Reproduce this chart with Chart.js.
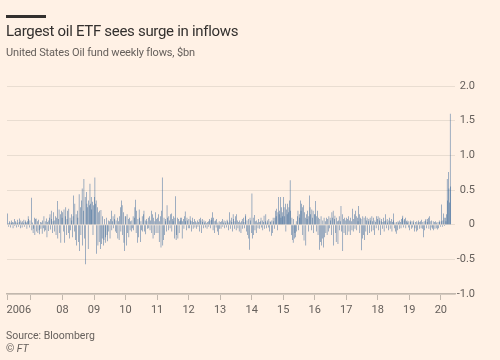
<!DOCTYPE html>
<html>
<head>
<meta charset="utf-8">
<script src="https://cdn.jsdelivr.net/npm/chart.js@4.4.1/dist/chart.umd.min.js"></script>
<style>
  html,body{margin:0;padding:0;background:#fff1e5;}
  #wrap{position:relative;width:500px;height:360px;overflow:hidden;background:#fff1e5;font-family:Roboto,"Noto Sans",sans-serif;}
  #bar{position:absolute;left:6px;top:15px;width:40px;height:3px;background:#33302e;}
  #title{position:absolute;left:6px;top:22px;font-size:15px;letter-spacing:-0.3px;line-height:18px;color:#33302e;white-space:nowrap;}
  #sub{position:absolute;left:6px;top:46px;font-size:11px;letter-spacing:-0.15px;line-height:14px;color:#66605c;white-space:nowrap;}
  #src{position:absolute;left:6px;top:329px;font-size:10.5px;line-height:13px;color:#66605c;white-space:nowrap;}
  #cp{position:absolute;left:6px;top:342px;font-size:10.5px;line-height:13px;color:#66605c;white-space:nowrap;}
  canvas{position:absolute;left:0;top:0;}
</style>
</head>
<body>
<div id="wrap">
  <canvas id="c" width="500" height="360"></canvas>
  <div id="bar"></div>
  <div id="title">Largest oil ETF sees surge in inflows</div>
  <div id="sub">United States Oil fund weekly flows, $bn</div>
  <div id="src">Source: Bloomberg</div>
  <div id="cp">© <i>FT</i></div>
</div>
<script>
// Weekly flows, $bn, one array per calendar year
const flows2006 = [0.16,0.02,-0.03,0.05,0.03,-0.04,0.06,0.02,0.04,-0.05,0.03,0.08,-0.02,0.05,0.03,-0.04,0.07,0.02,-0.03,0.04,0.09,-0.05,0.06,0.03,-0.04,0.05,0.02,0.07,-0.03,0.04,0.06,0.03,-0.06,0.05,0.12,0.08,-0.04,0.06];
const flows2007 = [0.39,-0.08,0.03,-0.12,-0.06,0.1,-0.15,0.08,0.09,-0.1,0.05,-0.12,0.07,-0.08,-0.14,0.04,-0.06,0.03,-0.13,0.06,-0.05,0.12,-0.1,0.05,-0.08,0.09,-0.18,0.04,0.06,-0.09,0.1,0.15,-0.07,0.2,0.08,-0.12,0.05,0.18,-0.1,0.06,0.12,-0.15,0.1,0.34,-0.2,0.08,0.22,-0.12,0.15,-0.26,0.2,0.1];
const flows2008 = [0.18,-0.1,0.22,-0.26,0.12,0.25,-0.15,0.08,0.2,-0.12,0.23,-0.2,0.1,-0.08,0.15,0.06,-0.18,0.12,0.42,-0.1,0.3,-0.22,0.15,-0.3,0.2,0.1,-0.25,0.44,-0.38,0.25,-0.15,0.35,0.52,-0.3,0.2,0.66,-0.2,0.4,-0.57,0.47,0.3,0.25,-0.35,0.35,0.28,0.59,0.3,0.4,0.22,0.33,-0.15,0.28];
const flows2009 = [0.4,0.68,0.3,0.35,-0.42,0.25,-0.3,0.18,-0.25,0.2,-0.35,0.21,-0.28,-0.2,0.12,-0.3,-0.22,0.08,-0.26,-0.18,0.1,-0.15,-0.24,0.06,-0.1,0.05,-0.2,0.08,0.2,-0.08,0.05,0.12,-0.05,0.08,0.15,-0.1,0.06,-0.12,0.1,-0.2,0.05,-0.22,0.12,0.25,-0.1,0.35,0.28,-0.15,0.18,-0.26,-0.38,0.12];
const flows2010 = [0.12,-0.3,0.15,-0.12,0.08,-0.18,0.1,-0.08,0.05,-0.1,0.06,-0.05,0.12,-0.08,0.1,0.25,0.36,-0.12,0.2,-0.26,0.08,-0.18,0.22,0.1,-0.25,0.05,-0.08,0.12,-0.1,0.15,0.2,-0.1,0.06,-0.14,0.08,0.05,-0.06,0.1,-0.05,0.12,-0.08,0.06,0.2,-0.12,0.15,-0.2,0.1,-0.15,0.05,0.18,-0.12,0.08];
const flows2011 = [0.1,-0.12,0.15,-0.25,0.05,0.12,-0.33,0.2,0.68,-0.3,-0.22,0.1,-0.15,0.08,0.05,-0.1,0.28,0.1,-0.08,0.12,0.06,-0.05,0.15,0.16,-0.1,0.08,0.05,0.12,-0.2,0.1,0.41,-0.22,-0.15,0.1,-0.2,0.08,-0.12,0.05,0.1,0.06,0.1,-0.2,0.05,0.08,-0.06,0.12,0.19,0.05,-0.08,0.1,0.06,-0.05];
const flows2012 = [0.08,-0.05,0.12,0.06,-0.1,0.05,0.1,-0.06,0.04,0.08,-0.04,0.05,0.03,-0.06,0.06,-0.03,0.04,0.08,-0.1,0.1,0.06,-0.12,0.08,0.04,-0.05,0.06,0.03,-0.04,0.05,0.02,-0.06,0.04,0.05,-0.03,0.08,0.06,-0.05,0.1,0.07,0.18,-0.08,0.1,-0.12,0.05,0.06,-0.04,0.08,-0.1,0.03,-0.15,0.05,-0.06];
const flows2013 = [0.04,-0.06,0.05,0.08,-0.03,0.03,0.06,-0.05,0.02,0.05,-0.04,0.07,0.05,-0.08,0.03,0.18,0.06,-0.06,0.1,0.04,-0.1,0.15,0.08,-0.06,0.05,0.12,-0.08,0.15,0.06,-0.05,0.04,-0.1,0.06,0.03,-0.12,0.05,0.08,-0.06,0.1,0.04,-0.05,0.12,0.15,-0.1,0.06,-0.15,0.08,-0.2,-0.36,0.1,0.06,-0.12];
const flows2014 = [0.45,-0.2,0.1,-0.15,0.14,-0.08,0.05,-0.12,0.06,0.03,-0.05,0.08,0.04,-0.06,0.05,0.1,-0.04,0.06,-0.08,0.04,0.13,-0.06,0.05,0.15,-0.05,0.03,0.06,-0.04,0.08,-0.1,0.05,0.04,-0.16,0.06,-0.12,0.1,0.05,-0.06,0.1,0.2,0.12,0.23,-0.08,0.18,0.4,0.15,0.2,0.4,0.1,0.25,0.18,0.12];
const flows2015 = [0.4,0.25,0.12,0.3,-0.1,0.22,0.15,0.3,0.18,0.25,0.35,0.64,0.2,-0.15,0.1,-0.22,-0.26,0.08,-0.2,-0.12,-0.18,0.05,-0.1,0.12,0.2,-0.08,0.15,0.1,0.35,0.2,0.3,0.25,-0.15,0.28,-0.23,0.18,0.1,-0.3,0.15,0.08,0.2,-0.1,0.12,0.42,0.25,0.15,-0.08,0.22,0.1,0.2,-0.12,0.15];
const flows2016 = [0.15,0.34,-0.1,0.12,0.2,-0.15,0.1,-0.36,0.08,-0.25,0.12,-0.3,-0.2,0.06,-0.33,0.1,-0.18,0.05,-0.12,0.1,-0.15,0.08,-0.1,0.12,-0.05,0.1,0.06,-0.15,0.18,0.1,0.2,-0.3,0.08,0.13,-0.12,-0.25,0.1,0.05,-0.28,0.06,0.12,-0.08,0.05,0.27,-0.1,0.15,-0.38,0.08,-0.12,0.1,-0.15,0.06];
const flows2017 = [0.1,-0.15,0.08,0.12,-0.1,0.06,-0.15,0.1,0.05,-0.08,0.23,-0.1,0.08,0.15,-0.06,0.2,0.12,-0.08,0.1,0.05,0.27,0.15,-0.12,0.1,0.08,-0.37,-0.2,0.12,-0.15,0.1,-0.22,0.12,-0.1,0.06,0.1,-0.15,0.05,0.08,-0.12,0.1,0.06,-0.1,0.12,0.05,-0.08,0.1,-0.15,0.06,0.04,-0.05,0.12,0.08];
const flows2018 = [0.12,-0.08,0.06,0.1,-0.15,0.05,0.08,-0.06,0.04,0.1,-0.1,0.05,0.15,0.06,-0.05,0.08,0.03,-0.08,0.06,0.1,-0.06,0.05,0.08,-0.1,0.04,0.06,0.16,-0.05,0.03,-0.1,-0.13,0.04,-0.08,0.05,0.03,-0.06,0.06,0.04,-0.05,0.08,0.1,0.13,-0.04,0.06,0.08,0.1,-0.05,0.05,0.06,0.03,-0.04,0.05];
const flows2019 = [-0.08,0.04,0.06,-0.06,0.05,-0.04,0.03,0.06,-0.1,-0.05,0.04,-0.1,0.05,-0.08,0.03,0.06,-0.06,0.04,0.05,-0.05,0.07,-0.06,0.04,-0.18,0.05,-0.08,0.06,0.08,-0.05,0.04,0.08,0.1,-0.06,0.12,0.05,-0.08,0.06,-0.04,-0.06,0.05,-0.08,0.04,-0.06,0.05,-0.05,0.03,-0.07,0.04,-0.05,0.06,0.04,-0.03];
const flows2020 = [0.05,0.29,-0.03,0.06,0.16,0.1,-0.02,0.1,0.05,0.15,0.66,0.35,0.76,0.52,0.32,1.6,0.55];

const years = [2006,2007,2008,2009,2010,2011,2012,2013,2014,2015,2016,2017,2018,2019,2020];
const yearFlows = [flows2006,flows2007,flows2008,flows2009,flows2010,flows2011,flows2012,flows2013,flows2014,flows2015,flows2016,flows2017,flows2018,flows2019,flows2020];
const firstWeek = [13.5,0.5,0.5,0.5,0.5,0.5,0.5,0.5,0.5,0.5,0.5,0.5,0.5,0.5,0.5]; // week offset of first value in each year

const tickValues = [2006.24,2007,2008,2009,2010,2011,2012,2013,2014,2015,2016,2017,2018,2019,2020];
const tickLabels = ["2006","","08","09","10","11","12","13","14","15","16","17","18","19","20"];
const yTickLabels = {"2":"2.0","1.5":"1.5","1":"1.0","0.5":"0.5","0":"0","-0.5":"-0.5","-1":"-1.0"};

const points = [];
years.forEach((yr, i) => {
  yearFlows[i].forEach((v, w) => points.push({x: yr + (w + firstWeek[i]) / 52.18, y: v}));
});

const xLabelPlugin = {
  id: 'xLabels',
  afterDraw(chart) {
    const ctx = chart.ctx, sc = chart.scales.x;
    ctx.save();
    ctx.font = '11px Roboto, "Noto Sans", sans-serif';
    ctx.fillStyle = '#66605c';
    ctx.textBaseline = 'middle';
    tickValues.forEach((v, i) => {
      if (!tickLabels[i]) return;
      const px = sc.getPixelForValue(v);
      ctx.textAlign = i === 0 ? 'left' : 'center';
      ctx.fillText(tickLabels[i], i === 0 ? px - 0.5 : px, 310);
    });
    ctx.restore();
  }
};

new Chart(document.getElementById('c'), {
  type: 'bar',
  data: {
    datasets: [{
      data: points,
      backgroundColor: '#2a5d94',
      borderWidth: 0,
      barPercentage: 0.75,
      categoryPercentage: 1
    }]
  },
  options: {
    responsive: false,
    animation: false,
    layout: {padding: {left: 7, right: 25, top: 86, bottom: 60}},
    plugins: {legend: {display: false}, tooltip: {enabled: false}},
    scales: {
      x: {
        type: 'linear',
        offset: false,
        min: 2006.24,
        max: 2020.45,
        afterBuildTicks: (s) => { s.ticks = tickValues.map(v => ({value: v})); },
        ticks: {display: false},
        grid: {display: true, offset: false, drawOnChartArea: false, drawTicks: true, tickLength: 6, color: '#c2b8ae', lineWidth: 1},
        border: {display: true, color: '#c2b8ae', width: 1.5}
      },
      y: {
        position: 'right',
        min: -1,
        max: 2,
        afterBuildTicks: (s) => { s.ticks = [-1,-0.5,0,0.5,1,1.5,2].map(v => ({value: v})); },
        afterFit: (s) => { s.width = 20; },
        ticks: {
          callback: (v) => yTickLabels[String(v)],
          color: '#66605c',
          font: {family: 'Roboto, "Noto Sans", sans-serif', size: 11},
          padding: 3,
          crossAlign: 'far'
        },
        grid: {color: '#e9ddd1', drawTicks: false, lineWidth: 1},
        border: {display: false}
      }
    }
  },
  plugins: [xLabelPlugin]
});
</script>
</body>
</html>
